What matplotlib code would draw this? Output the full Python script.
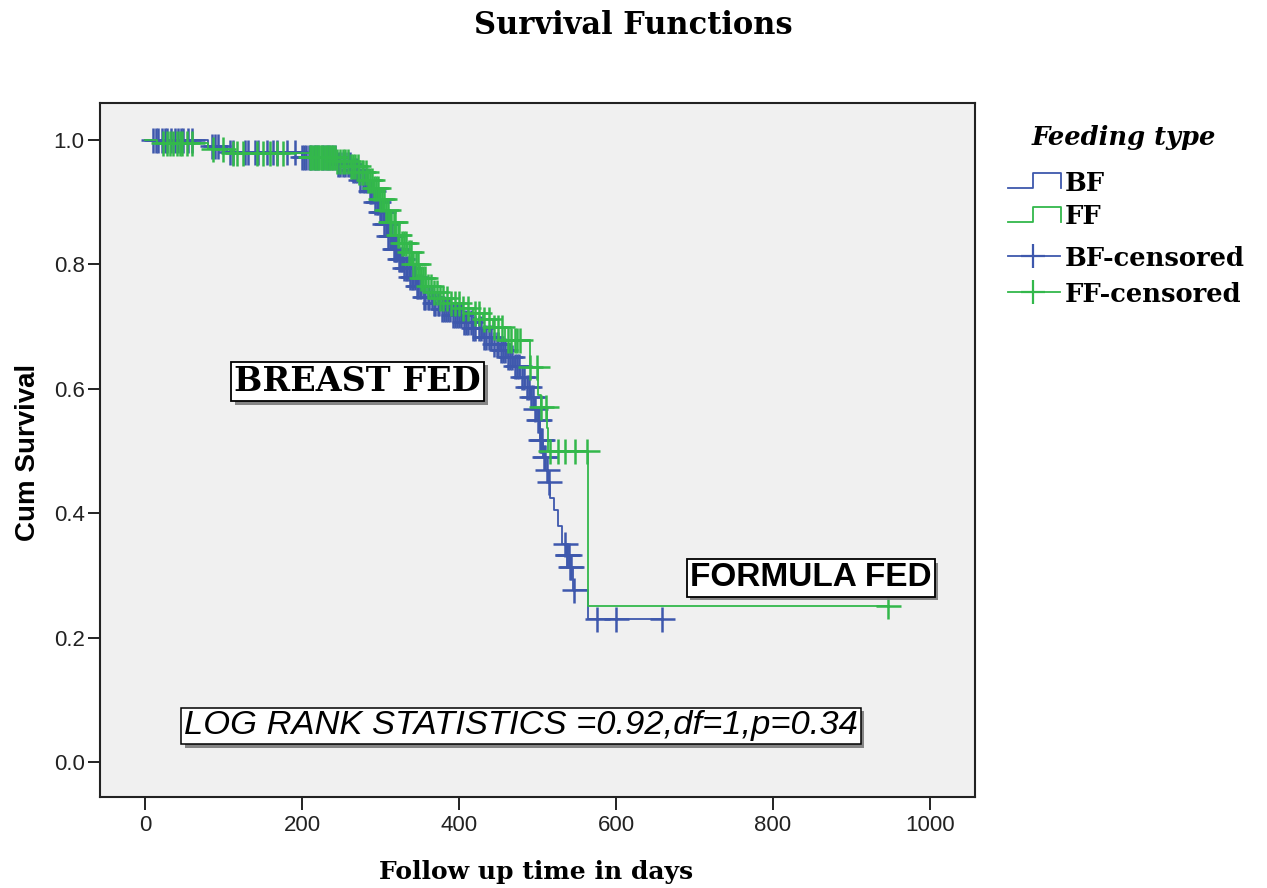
import numpy as np
import matplotlib
matplotlib.use('Agg')
import matplotlib.pyplot as plt
from matplotlib.lines import Line2D
import matplotlib.patheffects as pe

# KM step curves: time of event, survival after it
bf_time = [0, 80, 105, 200, 245, 262, 274, 284, 292, 298, 304, 310, 316, 323, 330,
           338, 346, 355, 366, 378, 392, 405, 418, 431, 442, 452, 461, 470, 478,
           484, 490, 495, 499, 503, 507, 510, 513, 516, 521, 526, 531, 537, 541,
           545, 564]
bf_surv = [1.0, 0.99, 0.98, 0.972, 0.962, 0.952, 0.935, 0.918, 0.9, 0.885, 0.865,
           0.845, 0.825, 0.808, 0.795, 0.78, 0.765, 0.748, 0.738, 0.728, 0.718,
           0.708, 0.697, 0.683, 0.672, 0.662, 0.651, 0.636, 0.619, 0.603, 0.587,
           0.568, 0.55, 0.518, 0.49, 0.47, 0.45, 0.425, 0.405, 0.38, 0.35, 0.333,
           0.313, 0.277, 0.23]

ff_time = [0, 15, 80, 110, 210, 245, 262, 272, 282, 290, 298, 305, 312, 320, 327,
           334, 342, 350, 358, 366, 376, 390, 405, 418, 430, 443, 459, 490, 500,
           505, 512, 514, 564]
ff_surv = [1.0, 0.995, 0.985, 0.979, 0.972, 0.966, 0.958, 0.948, 0.935, 0.923,
           0.905, 0.888, 0.868, 0.848, 0.835, 0.82, 0.8, 0.778, 0.765, 0.755,
           0.746, 0.738, 0.73, 0.722, 0.712, 0.70, 0.678, 0.635, 0.59, 0.571,
           0.537, 0.5, 0.251]

# censored observations (days)
bf_cens = [10, 14, 17, 22, 26, 28, 33, 38, 42, 46, 49, 55, 60, 85, 89, 93, 108, 112,
           127, 131, 140, 144, 155, 163, 168, 181, 191, 200, 203, 205, 209, 212,
           215, 218, 221, 225, 228, 232, 235, 238, 242, 246, 249, 252, 255, 258,
           261, 265, 267, 270, 274, 278, 280, 283, 286, 288, 290, 293, 295, 297,
           299, 301, 303, 305, 307, 308, 310, 312, 313, 315, 317, 318, 320, 321,
           323, 325, 327, 328, 330, 332, 334, 336, 338, 340, 342, 344, 346, 348,
           350, 352, 355, 357, 360, 362, 365, 368, 370, 373, 375, 378, 381, 383,
           386, 389, 392, 395, 397, 400, 403, 406, 409, 412, 415, 418, 421, 425,
           428, 432, 435, 438, 441, 445, 448, 450, 453, 456, 459, 462, 465, 468,
           471, 474, 477, 480, 483, 486, 489, 492, 494, 497, 500, 502, 503, 505,
           506, 508, 509, 512, 515, 535, 537, 538, 540, 541, 543, 546, 576, 600,
           658]
ff_cens = [23, 28, 32, 36, 41, 44, 47, 54, 60, 87, 99, 112, 117, 125, 143, 150, 159,
           168, 176, 210, 212, 214, 216, 218, 220, 222, 224, 226, 228, 230, 232,
           234, 236, 238, 240, 242, 245, 248, 252, 255, 258, 262, 265, 268, 271,
           273, 276, 278, 281, 284, 287, 289, 292, 294, 297, 299, 302, 304, 307,
           309, 312, 314, 317, 319, 322, 324, 327, 330, 333, 336, 339, 342, 345,
           348, 351, 354, 357, 360, 364, 368, 372, 376, 380, 385, 390, 395, 400,
           405, 412, 420, 426, 432, 438, 445, 450, 455, 462, 466, 471, 474, 478,
           490, 499, 505, 511, 516, 526, 535, 548, 563, 946]

blue = '#3E58AD'
green = '#33B84B'
W, H = 1267, 888


def surv_at(times, surv, t):
    idx = np.searchsorted(times, t, side='right') - 1
    return np.asarray(surv)[idx]


def fx(px):
    return px / W


def fy(py):
    return 1 - py / H


fig = plt.figure(figsize=(W / 100, H / 100), dpi=100, facecolor='white')
ax = fig.add_axes([fx(100), fy(797), fx(975) - fx(100), fy(103) - fy(797)])
ax.set_facecolor('#F0F0F0')

# curves, extended to the last censored case
bt = list(bf_time) + [bf_cens[-1]]
bs = list(bf_surv) + [bf_surv[-1]]
ft = list(ff_time) + [ff_cens[-1]]
fs = list(ff_surv) + [ff_surv[-1]]
ax.step(bt, bs, where='post', color=blue, lw=1.3, zorder=2)
ax.plot(bf_cens, surv_at(bf_time, bf_surv, bf_cens), ls='none', marker='+',
        ms=18, mew=1.8, color=blue, zorder=3)
ax.step(ft, fs, where='post', color=green, lw=1.3, zorder=4)
ax.plot(ff_cens, surv_at(ff_time, ff_surv, ff_cens), ls='none', marker='+',
        ms=18, mew=1.8, color=green, zorder=5)

ax.set_xlim(-57.3, 1057.3)
ax.set_ylim(-0.0563, 1.0595)
ax.set_xticks(np.arange(0, 1001, 200))
ax.set_yticks(np.arange(0, 1.01, 0.2))
ax.set_yticklabels(['%.1f' % v for v in np.arange(0, 1.01, 0.2)])
ax.tick_params(direction='out', length=9, width=1.4, labelsize=16, colors='#222222')
ax.tick_params(axis='x', pad=4)
ax.tick_params(axis='y', pad=2)
for lab in ax.get_xticklabels() + ax.get_yticklabels():
    lab.set_family('Liberation Sans')
    lab.set_color('#222222')
for sp in ax.spines.values():
    sp.set_color('#222222')
    sp.set_linewidth(1.5)

fig.text(fx(28), fy(452), 'Cum Survival', rotation=90, ha='center', va='center',
         fontsize=20, fontweight='bold', family='Liberation Sans')
fig.text(fx(536), fy(872), 'Follow up time in days', ha='center', va='center',
         fontsize=18, fontweight='bold', family='DejaVu Serif')
fig.text(fx(633), fy(26), 'Survival Functions', ha='center', va='center',
         fontsize=22, fontweight='bold', family='DejaVu Serif')

shadow = [pe.withSimplePatchShadow(offset=(2.5, -2.5), shadow_rgbFace='#7a7a7a',
                                   alpha=0.9)]

t1 = ax.text(271, 0.612, 'BREAST FED', ha='center', va='center', fontsize=24,
             fontweight='bold', family='DejaVu Serif', zorder=6,
             bbox=dict(boxstyle='square,pad=0.1', facecolor='white',
                       edgecolor='black', lw=1.3))
t2 = ax.text(848, 0.296, 'FORMULA FED', ha='center', va='center', fontsize=24,
             fontweight='bold', family='Liberation Sans', zorder=6,
             bbox=dict(boxstyle='square,pad=0.1', facecolor='white',
                       edgecolor='black', lw=1.3))
t3 = ax.text(479, 0.058, 'LOG RANK STATISTICS =0.92,df=1,p=0.34', ha='center',
             va='center', fontsize=24.8, style='italic', family='Liberation Sans',
             zorder=6, bbox=dict(boxstyle='square,pad=0.08', facecolor='white',
                                 edgecolor='black', lw=1.1))
for t in (t1, t2, t3):
    t.get_bbox_patch().set_path_effects(shadow)

# legend drawn by hand in figure pixels
fig.text(fx(1032), fy(137), 'Feeding type', ha='left', va='center', fontsize=18.5,
         fontweight='bold', style='italic', family='DejaVu Serif')
leg_items = [('BF', blue, 'step', 181), ('FF', green, 'step', 215),
             ('BF-censored', blue, 'cross', 256), ('FF-censored', green, 'cross', 292)]
for name, col, kind, yc in leg_items:
    if kind == 'step':
        xs = [1008, 1033, 1033, 1061, 1061]
        ys = [yc + 7, yc + 7, yc - 8, yc - 8, yc + 7]
        fig.add_artist(Line2D([fx(v) for v in xs], [fy(v) for v in ys],
                              transform=fig.transFigure, color=col, lw=1.3))
    else:
        fig.add_artist(Line2D([fx(1008), fx(1060)], [fy(yc), fy(yc)],
                              transform=fig.transFigure, color=col, lw=1.3))
        fig.add_artist(Line2D([fx(1033)], [fy(yc)], transform=fig.transFigure,
                              color=col, marker='+', ms=17, mew=1.6, ls='none'))
    fig.text(fx(1065), fy(yc + 2), name, ha='left', va='center', fontsize=18.5,
             fontweight='bold', family='DejaVu Serif')

fig.savefig('out.png', dpi=100)
